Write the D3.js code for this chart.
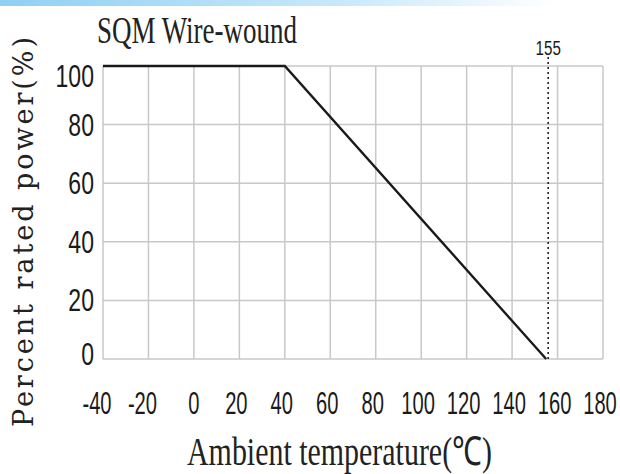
<!DOCTYPE html>
<html>
<head>
<meta charset="utf-8">
<script src="https://cdn.jsdelivr.net/npm/d3@7"></script>
<style>
  html, body { margin: 0; padding: 0; background: #fff; }
  svg { display: block; }
</style>
</head>
<body>
<svg></svg>
<script>
// Derating curve data
const tempPoints = [-40, 40, 155];
const powerPoints = [100, 100, 0];
const xTicks = [-40, -20, 0, 20, 40, 60, 80, 100, 120, 140, 160, 180];
const yTicks = [0, 20, 40, 60, 80, 100];
const maxTemp = 155;
const titleText = "SQM  Wire-wound";
const xLabel = "Ambient temperature(\u2103)";
const yLabel = "Percent rated power(%)";

const width = 620, height = 474;
const svg = d3.select("svg").attr("width", width).attr("height", height);

// plot area
const margin = {top: 66, right: 17, bottom: 115, left: 103};
const plotW = width - margin.left - margin.right;
const plotH = height - margin.top - margin.bottom;

// top blue band
const defs = svg.append("defs");
const grad = defs.append("linearGradient").attr("id", "band")
    .attr("x1", 0).attr("x2", 1).attr("y1", 0).attr("y2", 0);
grad.append("stop").attr("offset", "0%").attr("stop-color", "#8fd0f4");
grad.append("stop").attr("offset", "55%").attr("stop-color", "#c8e8fa");
grad.append("stop").attr("offset", "90%").attr("stop-color", "#ffffff");
svg.append("rect").attr("x", 0).attr("y", 0).attr("width", width).attr("height", 6)
    .attr("fill", "url(#band)");

const x = d3.scaleLinear().domain([-40, 180]).range([0, plotW]);
const y = d3.scaleLinear().domain([0, 100]).range([plotH, 0]);

const g = svg.append("g").attr("transform", `translate(${margin.left},${margin.top})`);

// grid
g.selectAll("line.vgrid")
    .data(xTicks)
    .join("line")
    .attr("class", "vgrid")
    .attr("x1", d => x(d)).attr("x2", d => x(d))
    .attr("y1", 0).attr("y2", plotH)
    .attr("stroke", "#c8c8c8")
    .attr("stroke-width", 1.5);

g.selectAll("line.hgrid")
    .data(yTicks)
    .join("line")
    .attr("class", "hgrid")
    .attr("x1", 0).attr("x2", plotW)
    .attr("y1", d => y(d)).attr("y2", d => y(d))
    .attr("stroke", "#c8c8c8")
    .attr("stroke-width", 1.5);

// dotted marker at max temperature
g.append("line")
    .attr("x1", x(maxTemp) + 2).attr("x2", x(maxTemp) + 2)
    .attr("y1", -9).attr("y2", plotH)
    .attr("stroke", "#222")
    .attr("stroke-width", 1.6)
    .attr("stroke-dasharray", "2,3");

// derating line
const lineData = tempPoints.map((t, i) => [t, powerPoints[i]]);
g.append("path")
    .datum(lineData)
    .attr("d", d3.line().x(d => x(d[0])).y(d => y(d[1])))
    .attr("fill", "none")
    .attr("stroke", "#1a1a1a")
    .attr("stroke-width", 2.4);

// helper: condensed text
function squeezed(parent, tx, ty, sx, txt, size, anchor, family) {
    const t = parent.append("g")
        .attr("transform", `translate(${tx},${ty}) scale(${sx},1)`)
        .append("text")
        .attr("text-anchor", anchor)
        .style("font-family", family)
        .style("font-size", size + "px")
        .attr("fill", "#1a1a1a")
        .text(txt);
    return t;
}

const sans = "'Liberation Sans', Arial, sans-serif";
const serif = "'Liberation Serif', 'Times New Roman', serif";

// x tick labels
xTicks.forEach(d => {
    const shift = d < 0 ? -6 : (d === 0 ? 0 : -3);
    squeezed(g, x(d) + shift, plotH + 55, 0.63, d, 32, "middle", sans);
});

// y tick labels
yTicks.forEach(d => {
    const off = d === 100 ? 10 : (d === 0 ? -5 : 0);
    squeezed(g, -9, y(d) + 11 + off, 0.72, d, 32, "end", sans);
});

// 155 label
squeezed(g, x(maxTemp) + 2, -11, 0.72, maxTemp, 21, "middle", sans);

// title
svg.append("text")
    .attr("x", 97).attr("y", 43)
    .attr("textLength", 200).attr("lengthAdjust", "spacingAndGlyphs")
    .style("font-family", serif)
    .style("font-size", "38px")
    .attr("fill", "#222")
    .text(titleText);

// x axis label
svg.append("text")
    .attr("x", 187).attr("y", 465)
    .attr("textLength", 305).attr("lengthAdjust", "spacingAndGlyphs")
    .style("font-family", serif)
    .style("font-size", "40px")
    .attr("fill", "#222")
    .text(xLabel);

// y axis label
svg.append("text")
    .attr("transform", "translate(33,427) rotate(-90)")
    .attr("textLength", 390).attr("lengthAdjust", "spacing")
    .style("font-family", "'DejaVu Serif', serif")
    .style("font-size", "27px")
    .attr("fill", "#222")
    .text(yLabel);
</script>
</body>
</html>
